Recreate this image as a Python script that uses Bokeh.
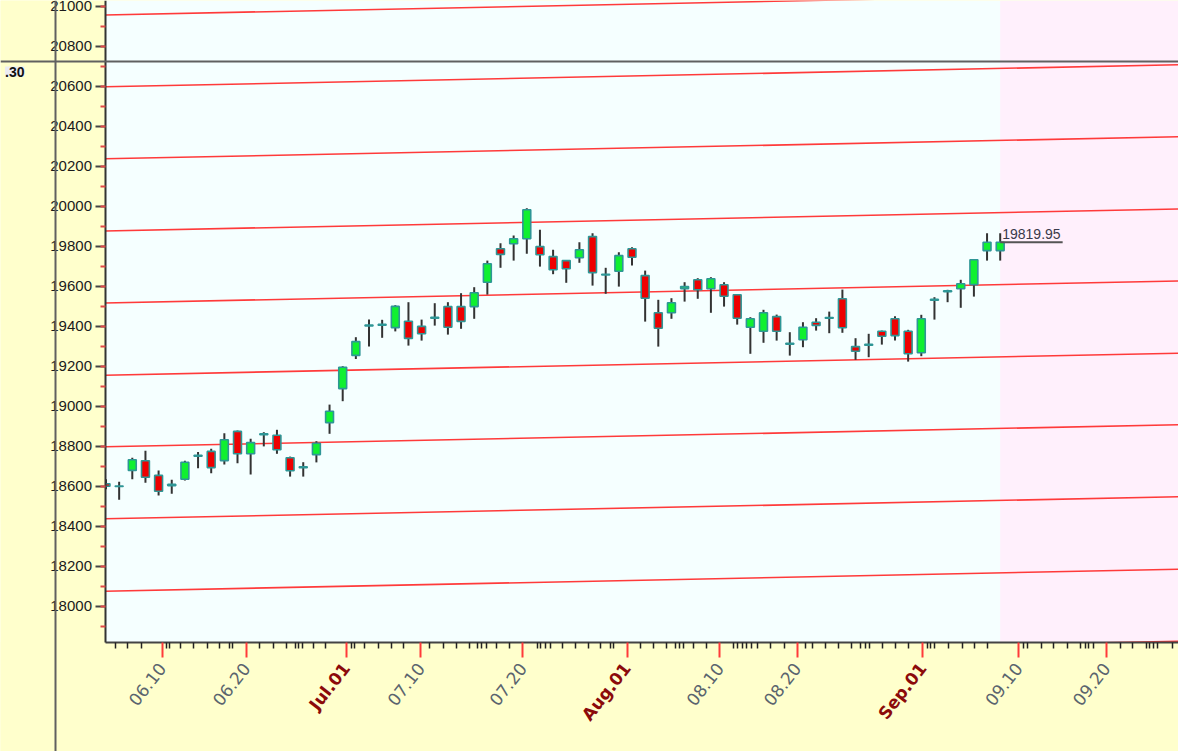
import math
from bokeh.plotting import figure
from bokeh.models import (ColumnDataSource, Range1d, FixedTicker, SingleIntervalTicker,
                          Span, Label, LinearAxis, CustomJSTickFormatter)
from bokeh.embed import file_html
from bokeh.resources import INLINE

# ---------------- data ----------------
dates = [
    "2023-06-05", "2023-06-06", "2023-06-07", "2023-06-08", "2023-06-09", "2023-06-12", "2023-06-13",
    "2023-06-14", "2023-06-15", "2023-06-16", "2023-06-19", "2023-06-20", "2023-06-21", "2023-06-22",
    "2023-06-23", "2023-06-26", "2023-06-27", "2023-06-28", "2023-06-30",
    "2023-07-03", "2023-07-04", "2023-07-05", "2023-07-06", "2023-07-07", "2023-07-10", "2023-07-11",
    "2023-07-12", "2023-07-13", "2023-07-14", "2023-07-17", "2023-07-18", "2023-07-19", "2023-07-20",
    "2023-07-21", "2023-07-24", "2023-07-25", "2023-07-26", "2023-07-27", "2023-07-28", "2023-07-31",
    "2023-08-01", "2023-08-02", "2023-08-03", "2023-08-04", "2023-08-07", "2023-08-08", "2023-08-09",
    "2023-08-10", "2023-08-11", "2023-08-14", "2023-08-16", "2023-08-17", "2023-08-18", "2023-08-21",
    "2023-08-22", "2023-08-23", "2023-08-24", "2023-08-25", "2023-08-28", "2023-08-29", "2023-08-30",
    "2023-08-31",
    "2023-09-01", "2023-09-04", "2023-09-05", "2023-09-06", "2023-09-07", "2023-09-08", "2023-09-11",
]
opens = [
    18612, 18601, 18679, 18727, 18654, 18603, 18635, 18750, 18774, 18728, 18874, 18762, 18857, 18855,
    18742, 18692, 18758, 18918, 19088,
    19254, 19406, 19409, 19393, 19425, 19399, 19440, 19498, 19498, 19498, 19620, 19787, 19812, 19837,
    19798, 19748, 19728, 19742, 19848, 19660, 19675,
    19787, 19653, 19467, 19467, 19588, 19632, 19587, 19607, 19557, 19395, 19375, 19448, 19315, 19332,
    19420, 19440, 19537, 19298, 19305, 19375, 19437, 19375,
    19267, 19530, 19573, 19587, 19608, 19778, 19778,
]
highs = [
    18635, 18622, 18742, 18777, 18679, 18632, 18727, 18771, 18787, 18865, 18878, 18837, 18870, 18882,
    18748, 18720, 18825, 19008, 19200,
    19345, 19433, 19432, 19505, 19520, 19433, 19515, 19520, 19565, 19595, 19728, 19815, 19853, 19990,
    19882, 19782, 19730, 19820, 19865, 19692, 19770,
    19795, 19678, 19532, 19540, 19620, 19640, 19645, 19620, 19560, 19445, 19482, 19458, 19370, 19420,
    19440, 19473, 19583, 19340, 19362, 19378, 19450, 19382,
    19457, 19545, 19582, 19632, 19732, 19865, 19865,
]
lows = [
    18585, 18532, 18635, 18617, 18553, 18562, 18628, 18690, 18665, 18708, 18715, 18659, 18799, 18762,
    18648, 18648, 18719, 18862, 19025,
    19236, 19298, 19342, 19374, 19303, 19328, 19403, 19358, 19387, 19437, 19558, 19692, 19728, 19762,
    19698, 19660, 19617, 19717, 19603, 19562, 19598,
    19703, 19423, 19298, 19437, 19523, 19537, 19467, 19498, 19408, 19262, 19317, 19328, 19253, 19295,
    19378, 19365, 19367, 19232, 19245, 19308, 19328, 19223,
    19250, 19433, 19520, 19492, 19548, 19728, 19728,
]
closes = [
    18600, 18599, 18732, 18645, 18575, 18609, 18720, 18755, 18693, 18832, 18762, 18818, 18862, 18782,
    18677, 18697, 18815, 18975, 19195,
    19323, 19401, 19405, 19499, 19339, 19362, 19444, 19395, 19424, 19567, 19712, 19759, 19837, 19982,
    19757, 19682, 19687, 19782, 19668, 19656, 19753,
    19745, 19540, 19390, 19517, 19598, 19582, 19637, 19550, 19440, 19437, 19467, 19375, 19310, 19395,
    19404, 19443, 19392, 19275, 19309, 19350, 19353, 19262,
    19437, 19534, 19577, 19612, 19732, 19819.95, 19819.95,
]

# parallel channel lines: level at the first bar and rise per bar
channel_levels = [17715, 18075, 18437, 18797, 19155, 19516, 19876, 20237, 20597, 20956]
channel_slope = 1.35

# x axis ticks (in bar-index units)
major_pos = [4.27, 10.66, 18.27, 23.94, 31.70, 39.63, 46.68, 52.56, 62.11, 69.39, 76.06]
major_lab = ["06.10", "06.20", "Jul.01", "07.10", "07.20", "Aug.01", "08.10", "08.20", "Sep.01", "09.10", "09.20"]
month_lab = ["Jul.01", "Aug.01", "Sep.01"]
minor_pos = [
    0.72, 1.66, 2.70, 4.58, 4.85, 5.67, 6.68, 7.74, 8.65, 9.41, 9.64, 11.70, 12.71, 13.73, 14.41, 14.62,
    14.92, 15.80, 16.71, 18.67, 18.90, 19.68, 20.70, 21.69, 22.65, 24.62, 25.69, 26.65, 27.67, 28.23,
    28.56, 28.91, 29.67, 30.68, 32.79, 33.04, 33.42, 33.80, 34.74, 35.70, 36.71, 37.60, 38.37, 38.57,
    40.65, 41.66, 42.62, 43.31, 43.61, 43.94, 44.70, 45.67, 47.70, 48.05, 48.38, 48.71, 49.06, 49.52,
    50.53, 51.60, 53.20, 53.70, 54.71, 55.73, 56.67, 57.38, 57.76, 58.06, 59.03, 60.04, 61.05, 62.45,
    62.70, 63.00, 64.09, 65.11, 66.05, 67.06, 69.79, 70.05, 71.12, 72.08, 73.10, 74.11, 74.49, 74.74,
    75.12, 77.15, 78.08, 79.13, 79.38, 79.68, 79.98, 81.08,
]

# crosshair
cross_x = -3.84
cross_y = 20723.5
cross_tag = ".30"

# ---------------- geometry ----------------
W, H = 1178, 751
PX_PER_BAR = 13.15
IDX0_PX = 105.5
PX_PER_PT = 0.2
x_start = -IDX0_PX / PX_PER_BAR
x_end = x_start + W / PX_PER_BAR
y_end = 21028.5
y_start = y_end - H / PX_PER_PT
axis_x = -0.076
axis_y = 17821.0

FONT = "Liberation Sans"
XFONT = "DejaVu Sans"
YELLOW = "#FFFFCC"
LABEL_ANGLE = math.radians(52)

p = figure(width=W, height=H, x_range=Range1d(x_start, x_end), y_range=Range1d(y_start, y_end),
           output_backend="svg", toolbar_location=None, min_border=0)
p.outline_line_color = None
p.background_fill_color = YELLOW
p.border_fill_color = YELLOW
p.grid.visible = False

n = len(closes)
xs = list(range(n))
last_i = n - 1
last_close = closes[-1]

# plot-area backgrounds
p.quad(left=[axis_x], right=[x_end], bottom=[axis_y], top=[y_end], fill_color="#F5FFFF", line_color=None)
p.quad(left=[last_i], right=[x_end], bottom=[axis_y], top=[y_end], fill_color="#FFF0FC", line_color=None)

# channel lines
ch_xs = [[axis_x, x_end] for _ in channel_levels]
ch_ys = [[lv + channel_slope * axis_x, lv + channel_slope * x_end] for lv in channel_levels]
p.multi_line(ch_xs, ch_ys, line_color="#FF3A3A", line_width=1.6)

# candles
src = ColumnDataSource(dict(
    x=xs, date=dates, open=opens, high=highs, low=lows, close=closes,
    top=[max(o, c) for o, c in zip(opens, closes)],
    bottom=[min(o, c) for o, c in zip(opens, closes)],
    color=["#10F030" if c >= o else "#EE0000" for o, c in zip(opens, closes)],
))
p.segment(x0="x", y0="low", x1="x", y1="high", source=src, line_color="#333333", line_width=2)
p.vbar(x="x", width=0.6, top="top", bottom="bottom", source=src,
       fill_color="color", line_color="#2E9696", line_width=1.6)

# masks outside the plot area
p.quad(left=[x_start], right=[axis_x], bottom=[y_start], top=[y_end], fill_color=YELLOW, line_color=None)
p.quad(left=[x_start], right=[x_end], bottom=[y_start], top=[axis_y], fill_color=YELLOW, line_color=None)

# last price marker
p.segment(x0=[last_i], y0=[last_close], x1=[last_i + 4.75], y1=[last_close], line_color="#555555", line_width=2)
p.add_layout(Label(x=last_i, y=last_close, x_offset=2, y_offset=3, text=f"{last_close:.2f}",
                   text_font=FONT, text_font_size="14px", text_color="#3A3A4A",
                   text_baseline="bottom", text_align="left"))

# y axis
yax = p.yaxis[0]
yax.fixed_location = axis_x
yax.bounds = (axis_y, y_end)
yax.ticker = SingleIntervalTicker(interval=200, num_minor_ticks=2)
yax.axis_line_color = "#333333"
yax.axis_line_width = 2
yax.major_tick_in = 0
yax.major_tick_out = 10
yax.major_tick_line_color = "#444444"
yax.major_tick_line_width = 2
yax.minor_tick_in = 0
yax.minor_tick_out = 5
yax.minor_tick_line_color = "#E04848"
yax.minor_tick_line_width = 2
yax.major_label_standoff = 3
yax.major_label_text_font = FONT
yax.major_label_text_font_size = "15px"
yax.major_label_text_color = "#1A1A1A"

fmt_code = """
for (let k = 0; k < pos.length; k++) {
    if (Math.abs(pos[k] - tick) < 1e-6) { return lab[k]; }
}
return '';
"""
gray_pos = [q for q, l in zip(major_pos, major_lab) if l not in month_lab]
gray_lab = [l for l in major_lab if l not in month_lab]
red_pos = [q for q, l in zip(major_pos, major_lab) if l in month_lab]
red_lab = [l for l in major_lab if l in month_lab]

xax = p.xaxis[0]
xax.fixed_location = axis_y
xax.bounds = (axis_x, x_end)
xax.ticker = FixedTicker(ticks=gray_pos, minor_ticks=minor_pos)
xax.formatter = CustomJSTickFormatter(args=dict(pos=gray_pos, lab=gray_lab), code=fmt_code)
xax.axis_line_color = "#444444"
xax.axis_line_width = 2
xax.major_tick_in = 0
xax.major_tick_out = 15
xax.major_tick_line_color = "#FF3A3A"
xax.major_tick_line_width = 2
xax.minor_tick_in = 0
xax.minor_tick_out = 6
xax.minor_tick_line_color = "#222222"
xax.minor_tick_line_width = 1.5
xax.major_label_orientation = LABEL_ANGLE
xax.major_label_standoff = 8
xax.major_label_text_font = XFONT
xax.major_label_text_font_size = "17px"
xax.major_label_text_color = "#5A646E"

ax2 = LinearAxis(fixed_location=axis_y, bounds=(axis_x, x_end),
                 ticker=FixedTicker(ticks=red_pos, minor_ticks=[]),
                 formatter=CustomJSTickFormatter(args=dict(pos=red_pos, lab=red_lab), code=fmt_code))
ax2.axis_line_color = None
ax2.major_tick_in = 0
ax2.major_tick_out = 15
ax2.major_tick_line_color = "#FF3A3A"
ax2.major_tick_line_width = 2
ax2.minor_tick_line_color = None
ax2.major_label_orientation = LABEL_ANGLE
ax2.major_label_standoff = 8
ax2.major_label_text_font = XFONT
ax2.major_label_text_font_size = "17px"
ax2.major_label_text_font_style = "bold"
ax2.major_label_text_color = "#8B0A0A"
p.add_layout(ax2, "below")

# crosshair
p.add_layout(Span(location=cross_x, dimension="height", line_color="#606060", line_width=2))
p.add_layout(Span(location=cross_y, dimension="width", line_color="#606060", line_width=2))
p.add_layout(Label(x=-6.2, y=cross_y, y_offset=-10, text=cross_tag, text_align="right",
                   text_baseline="middle", text_font=FONT, text_font_size="14px",
                   text_font_style="bold", text_color="#111111",
                   background_fill_color="#ECECF2"))

open("out.html", "w").write(file_html(p, INLINE))
